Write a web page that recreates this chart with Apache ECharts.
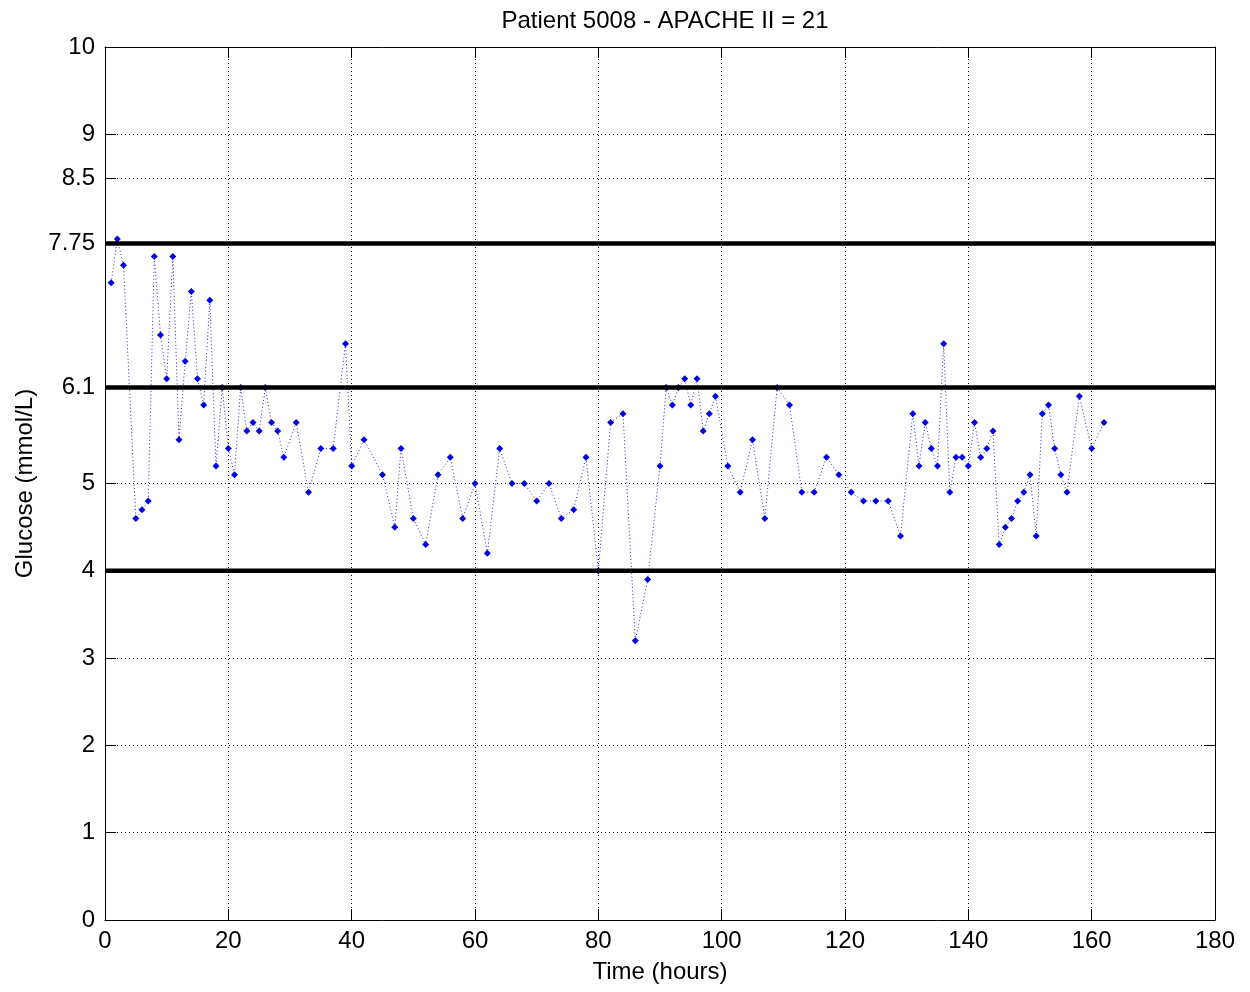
<!DOCTYPE html>
<html>
<head>
<meta charset="utf-8">
<script src="https://cdn.jsdelivr.net/npm/echarts@6/dist/echarts.min.js"></script>
<style>
html,body{margin:0;padding:0;background:#fff;}
#chart{width:1250px;height:992px;}
</style>
</head>
<body>
<div id="chart"></div>
<script>
var titleText = 'Patient 5008 - APACHE II = 21';
var xName = 'Time (hours)';
var yName = 'Glucose (mmol/L)';

var timeHours = [1,2,3,5,6,7,8,9,10,11,12,13,14,15,16,17,18,19,20,21,22,23,24,25,26,27,28,29,31,33,35,37,39,40,42,45,47,48,50,52,54,56,58,60,62,64,66,68,70,72,74,76,78,80,82,84,86,88,90,91,92,93,94,95,96,97,98,99,101,103,105,107,109,111,113,115,117,119,121,123,125,127,129,131,132,133,134,135,136,137,138,139,140,141,142,143,144,145,146,147,148,149,150,151,152,153,154,155,156,158,160,162];
var glucose = [7.3,7.8,7.5,4.6,4.7,4.8,7.6,6.7,6.2,7.6,5.5,6.4,7.2,6.2,5.9,7.1,5.2,6.1,5.4,5.1,6.1,5.6,5.7,5.6,6.1,5.7,5.6,5.3,5.7,4.9,5.4,5.4,6.6,5.2,5.5,5.1,4.5,5.4,4.6,4.3,5.1,5.3,4.6,5.0,4.2,5.4,5.0,5.0,4.8,5.0,4.6,4.7,5.3,4.0,5.7,5.8,3.2,3.9,5.2,6.1,5.9,6.1,6.2,5.9,6.2,5.6,5.8,6.0,5.2,4.9,5.5,4.6,6.1,5.9,4.9,4.9,5.3,5.1,4.9,4.8,4.8,4.8,4.4,5.8,5.2,5.7,5.4,5.2,6.6,4.9,5.3,5.3,5.2,5.7,5.3,5.4,5.6,4.3,4.5,4.6,4.8,4.9,5.1,4.4,5.8,5.9,5.4,5.1,4.9,6.0,5.4,5.7];

var xRange = [0, 180];
var yTicks = [0,1,2,3,4,5,6.1,7.75,8.5,9,10];
var thresholds = [4, 6.1, 7.75];
var yGridValues = [1,2,3,5,8.5,9];

var FONT = 'Liberation Sans, Arial, Helvetica, sans-serif';

var points = timeHours.map(function(t, i){ return [t, glucose[i]]; });

var chart = echarts.init(document.getElementById('chart'), null, {renderer:'canvas'});

var axisCommonX = {
  type: 'value', min: xRange[0], max: xRange[1], interval: 20,
  axisLine: {show: true, onZero: false, lineStyle: {color: '#000', width: 1}},
  axisTick: {show: true, inside: true, length: 11, lineStyle: {color: '#000', width: 1}}
};

var series = [
  {
    name: 'ygrid', type: 'line', data: [], z: 1, silent: true,
    markLine: {
      silent: true, symbol: ['none','none'], label: {show: false},
      lineStyle: {color: '#000', width: 1, type: [1, 3]},
      data: yGridValues.map(function(v){ return {yAxis: v}; })
    }
  },
  {
    name: 'Glucose', type: 'line', data: points, z: 2,
    symbol: 'diamond', symbolSize: 7, showSymbol: true,
    itemStyle: {color: '#0000e6'},
    lineStyle: {color: '#2828c8', width: 1, type: [1, 2.5]}
  }
];
thresholds.forEach(function(v){
  series.push({
    name: 'threshold ' + v, type: 'line', z: 10, silent: true,
    symbol: 'none', showSymbol: false,
    data: [[xRange[0], v], [xRange[1], v]],
    lineStyle: {color: '#000', width: 4.5, type: 'solid'}
  });
});

var option = {
  backgroundColor: '#fff',
  animation: false,
  title: {
    text: titleText,
    left: 660,
    textAlign: 'center',
    top: 4,
    textStyle: {fontFamily: FONT, fontSize: 24, fontWeight: 'normal', color: '#000'}
  },
  grid: {left: 105, top: 47, width: 1110, height: 873, containLabel: false},
  xAxis: [
    Object.assign({}, axisCommonX, {
      position: 'bottom',
      name: xName, nameLocation: 'middle', nameGap: 40,
      nameTextStyle: {fontFamily: FONT, fontSize: 24, color: '#000'},
      axisLabel: {fontFamily: FONT, fontSize: 24, color: '#000', margin: 9},
      splitLine: {show: true, lineStyle: {color: '#000', width: 1, type: [1, 3]}}
    }),
    Object.assign({}, axisCommonX, {
      position: 'top',
      axisLabel: {show: false},
      splitLine: {show: false}
    })
  ],
  yAxis: [
    {
      type: 'value', min: 0, max: 10, position: 'left',
      name: yName, nameLocation: 'middle', nameGap: 66, nameRotate: 90,
      nameTextStyle: {fontFamily: FONT, fontSize: 24, color: '#000'},
      axisLine: {show: true, onZero: false, lineStyle: {color: '#000', width: 1}},
      axisTick: {show: true, inside: true, length: 11, customValues: yTicks, lineStyle: {color: '#000', width: 1}},
      axisLabel: {fontFamily: FONT, fontSize: 24, color: '#000', margin: 10, customValues: yTicks},
      splitLine: {show: false}
    },
    {
      type: 'value', min: 0, max: 10, position: 'right',
      axisLine: {show: true, onZero: false, lineStyle: {color: '#000', width: 1}},
      axisTick: {show: true, inside: true, length: 11, customValues: yTicks, lineStyle: {color: '#000', width: 1}},
      axisLabel: {show: false},
      splitLine: {show: false}
    }
  ],
  series: series
};
chart.setOption(option);
</script>
</body>
</html>
